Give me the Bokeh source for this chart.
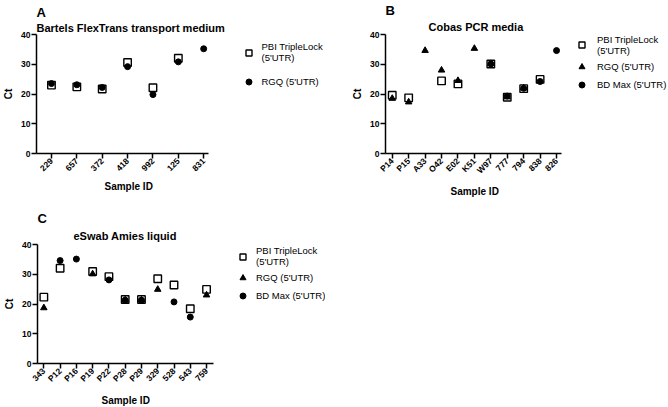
import math
from bokeh.plotting import figure
from bokeh.models import Range1d, FixedTicker, Legend, LegendItem, Title
from bokeh.layouts import column, row
from bokeh.embed import file_html
from bokeh.resources import INLINE

nan = float("nan")

# Panel A: Bartels FlexTrans transport medium
a_ids = ["229", "657", "372", "418", "992", "125", "831"]
a_pbi = [23.0, 22.4, 21.7, 30.6, 22.1, 32.0, nan]
a_rgq = [23.5, 23.1, 22.2, 29.2, 19.8, 30.8, 35.2]

# Panel B: Cobas PCR media
b_ids = ["P14", "P15", "A33", "O42", "E02", "K51", "W97", "777", "794", "838", "826"]
b_pbi = [19.6, 18.7, nan, 24.4, 23.4, nan, 30.1, 18.9, 21.8, 24.9, nan]
b_rgq = [18.5, 17.3, 34.6, 28.0, 24.5, 35.3, 30.2, 19.0, 22.0, nan, nan]
b_bd = [nan, nan, nan, nan, nan, nan, 30.1, 19.3, 21.9, 24.2, 34.6]

# Panel C: eSwab Amies liquid
c_ids = ["343", "P12", "P16", "P19", "P22", "P28", "P29", "329", "528", "543", "759"]
c_pbi = [22.3, 32.0, nan, 30.9, 29.2, 21.5, 21.5, 28.5, 26.4, 18.4, 24.9]
c_rgq = [18.7, nan, nan, 30.1, nan, 21.3, 21.3, 24.9, nan, nan, 23.0]
c_bd = [nan, 34.6, 35.1, nan, 28.1, 21.3, 21.3, nan, 20.7, 15.6, nan]

y_ticks = [0, 10, 20, 30, 40]
lab_pbi = "PBI TripleLock\n(5'UTR)"
lab_rgq = "RGQ (5'UTR)"
lab_bd = "BD Max (5'UTR)"

FONT = "Liberation Sans"

STYLE = {
    "square": dict(marker="square", size=7.5, fill_alpha=0, line_color="black", line_width=1.4),
    "triangle": dict(marker="triangle", size=6.5, fill_color="black", line_color="black"),
    "circle": dict(marker="circle", size=6, fill_color="black", line_color="black"),
}


def panel(letter, title, ids, series, lo, hi_axis, px_per_cat, fw, bl, br, bt, bb,
          t_standoff, t_offset, xlab_offset, leg_xy, leg_spacing, leg_standoff):
    n = len(ids)
    xs = list(range(n))
    # the frame also holds the legend area to the right of the data
    hi = lo + fw / px_per_cat
    p = figure(frame_width=fw, frame_height=119,
               min_border_left=bl, min_border_right=br,
               min_border_top=bt, min_border_bottom=bb,
               x_range=Range1d(lo, hi), y_range=Range1d(0, 40),
               output_backend="svg", toolbar_location=None, title=None)
    p.xgrid.visible = False
    p.ygrid.visible = False
    p.outline_line_color = None
    p.background_fill_color = "white"
    p.border_fill_color = "white"

    # titles: main title nearest the frame, panel letter above it
    p.add_layout(Title(text=title, align="left", offset=t_offset, standoff=t_standoff,
                       text_font=FONT, text_font_size="11px", text_font_style="bold",
                       text_color="black"), "above")
    p.add_layout(Title(text=letter, align="left", standoff=0,
                       text_font=FONT, text_font_size="13px", text_font_style="bold",
                       text_color="black"), "above")

    # draw filled marks first, open squares last (legend order kept separately)
    rends = {}
    for label, shape, vals in sorted(series, key=lambda s: s[1] == "square"):
        rends[label] = p.scatter(xs, vals, **STYLE[shape])
    items = [LegendItem(label=label, renderers=[rends[label]]) for label, _, _ in series]

    for ax in (p.xaxis[0], p.yaxis[0]):
        ax.axis_line_width = 1.5
        ax.axis_line_color = "black"
        ax.major_tick_line_width = 1.5
        ax.major_tick_line_color = "black"
        ax.major_tick_out = 5
        ax.major_tick_in = 0
        ax.minor_tick_line_color = None
        ax.major_label_text_font = FONT
        ax.major_label_text_font_size = "8.5px"
        ax.major_label_text_font_style = "bold"
        ax.major_label_text_color = "black"
        ax.axis_label_text_font = FONT
        ax.axis_label_text_font_size = "10px"
        ax.axis_label_text_font_style = "bold"
        ax.axis_label_text_color = "black"
    p.xaxis.bounds = (lo, hi_axis)
    p.xaxis.ticker = FixedTicker(ticks=xs)
    p.xaxis.major_label_overrides = {i: s for i, s in enumerate(ids)}
    p.xaxis.major_label_orientation = math.pi / 4
    p.xaxis.major_label_standoff = 1
    p.yaxis.ticker = FixedTicker(ticks=y_ticks)
    p.yaxis.major_label_standoff = 1
    p.yaxis.axis_label = "Ct"
    p.yaxis.axis_label_standoff = 4

    # x-axis title, centred under the data part of the axis
    p.add_layout(Title(text="Sample ID", align="left", offset=xlab_offset, standoff=5,
                       text_font=FONT, text_font_size="10px", text_font_style="bold",
                       text_color="black"), "below")

    leg = Legend(items=items, location=leg_xy, padding=0, margin=0,
                 spacing=leg_spacing, label_standoff=leg_standoff,
                 glyph_width=15, glyph_height=15,
                 label_text_font=FONT, label_text_font_size="9.5px",
                 label_text_color="black",
                 border_line_color=None, background_fill_alpha=0)
    p.add_layout(leg)
    return p


pA = panel("A", "Bartels FlexTrans transport medium", a_ids,
           [(lab_pbi, "square", a_pbi), (lab_rgq, "circle", a_rgq)],
           -0.59, 6.19, 25.37, 290, 35, 5, 29, 46, 1, 0, 68, (204.5, 64), 11, 6)
pB = panel("B", "Cobas PCR media", b_ids,
           [(lab_pbi, "square", b_pbi), (lab_rgq, "triangle", b_rgq), (lab_bd, "circle", b_bd)],
           -0.41, 10.30, 16.43, 283, 54, 0, 27, 46, 3, 43, 65, (189, 61.5), 3, 8)
pC = panel("C", "eSwab Amies liquid", c_ids,
           [(lab_pbi, "square", c_pbi), (lab_rgq, "triangle", c_rgq), (lab_bd, "circle", c_bd)],
           -0.39, 10.43, 16.27, 288, 37, 5, 45, 40, 5, 36, 64, (198, 60), 3, 6)

layout = column(row(pA, pB), pC)
open("out.html", "w").write(file_html(layout, INLINE))
